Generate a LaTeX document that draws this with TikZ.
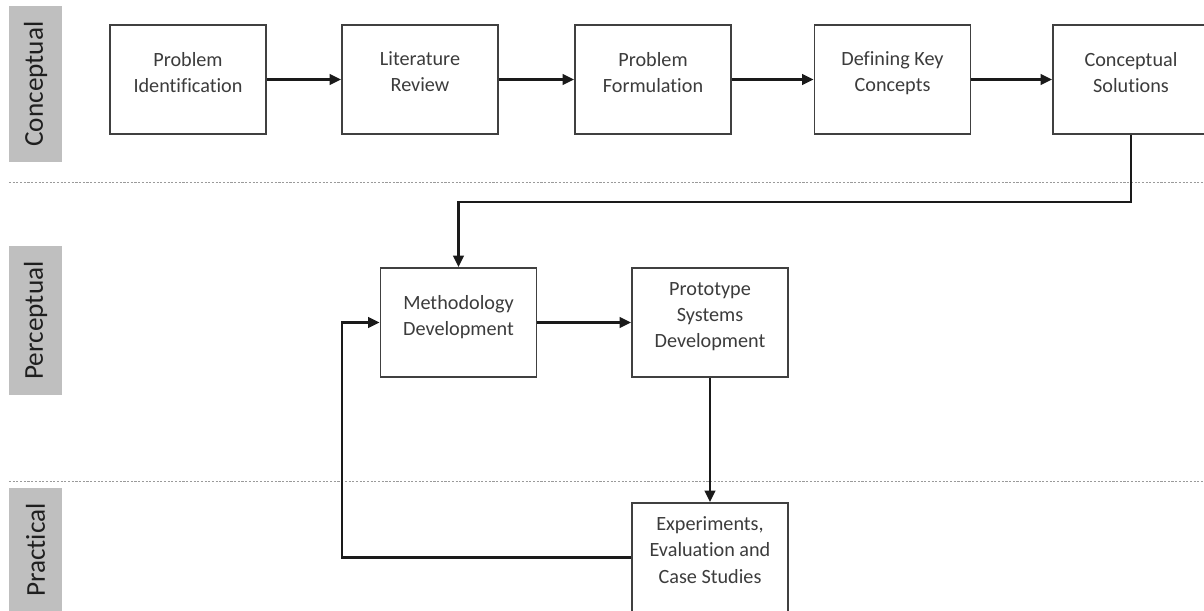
\documentclass[tikz,border=0pt]{standalone}
\usepackage{fontspec}
\setmainfont{Carlito}[Ligatures=CommonOff]
\usepackage{tikz}
\usetikzlibrary{
  arrows.meta,
  positioning,
}
\definecolor{boxline}{HTML}{404040}
\definecolor{boxtext}{HTML}{3C3C3C}
\definecolor{lanegray}{HTML}{BFBFBF}
\definecolor{lanetext}{HTML}{1F1F1F}
\definecolor{sepgray}{HTML}{9A9A9A}
\definecolor{flowline}{HTML}{1A1A1A}

\begin{document}
\begin{tikzpicture}[
    stage/.style={rectangle, draw=boxline, line width=1pt, fill=white,
      minimum width=3.12cm, minimum height=2.18cm, align=center, text=boxtext,
      font=\fontsize{11.5}{14.8}\selectfont,
      execute at end node={\rule[-8.5pt]{0pt}{0pt}}},
    lane/.style={rectangle, fill=lanegray, rotate=90, minimum height=1.06cm,
      text=lanetext, font=\fontsize{15.5}{18}\selectfont},
    sep/.style={draw=sepgray, line width=0.5pt, dash pattern=on 1.2pt off 0.9pt},
    flow/.style={draw=flowline, line width=1.3pt, -{Triangle[length=6.5pt, width=6pt]}},
  ]
  \useasboundingbox (0,0) rectangle (24.08,-12.2);

  % swimlane labels and dividers
  \node[lane, minimum width=3.12cm] (conc) at (0.71,-1.68) {Conceptual};
  \node[lane, minimum width=2.98cm] (perc) at (0.71,-6.41) {Perceptual};
  \node[lane, minimum width=2.48cm] (prac) at (0.71,-11.0) {Practical};

  \draw[sep] (0.18,-3.64) -- (24.08,-3.64);
  \draw[sep] (0.18,-9.62) -- (24.08,-9.62);

  % conceptual row
  \foreach \n/\x/\t in {prob/3.76/{Problem\\Identification},
                        lit/8.40/{Literature\\Review},
                        form/13.06/{Problem\\Formulation},
                        keys/17.85/{Defining Key\\Concepts},
                        sol/22.62/{Conceptual\\Solutions}}
    \node[stage] (\n) at (\x,-1.59) {\t};

  \foreach \a/\b in {prob/lit, lit/form, form/keys, keys/sol}
    \draw[flow] (\a) -- (\b);

  % perceptual and practical
  \node[stage] (meth) at (9.17,-6.45) {Methodology\\Development};
  \node[stage] (proto) at (14.2,-6.45) {Prototype\\Systems\\Development};
  \node[stage] (exp) at (14.2,-11.15) {Experiments,\\Evaluation and\\Case Studies};

  \draw[flow] (sol.south) -- ++(0,-1.34) -| (meth.north);
  \draw[flow] (meth) -- (proto);
  \draw[flow] (proto) -- (exp);
  \draw[flow] (exp.west) -- ++(-5.78,0) |- (meth.west);
\end{tikzpicture}
\end{document}
